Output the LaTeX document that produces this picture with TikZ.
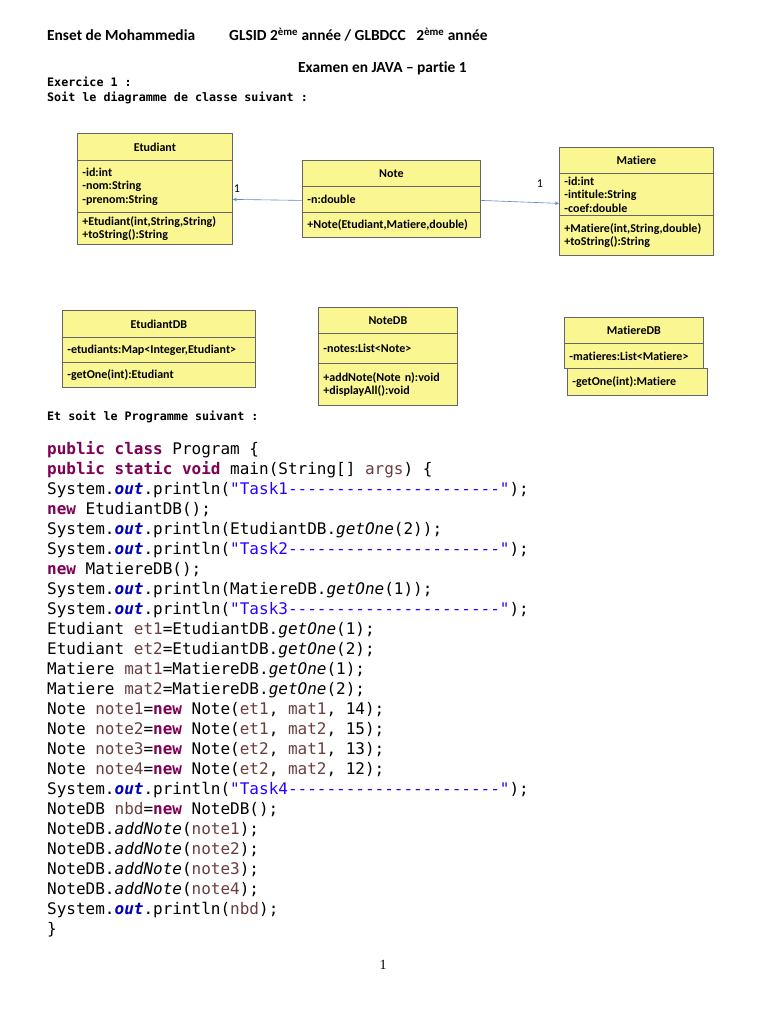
\documentclass[tikz,border=0pt]{standalone}
\usepackage{fontspec}
\setmainfont{Carlito}[Ligatures={TeX,NoCommon}]
\setmonofont{DejaVu Sans Mono}
\newfontfamily\serifpn{Liberation Serif}
\usetikzlibrary{arrows.meta}
\definecolor{umlyellow}{RGB}{250,246,145}
\definecolor{boxgray}{RGB}{100,100,105}
\definecolor{arrowblue}{RGB}{90,135,205}
\definecolor{kwcol}{RGB}{127,0,85}
\definecolor{strcol}{RGB}{42,0,255}
\definecolor{fldcol}{RGB}{0,0,192}
\definecolor{varcol}{RGB}{106,62,62}
\newcommand\jkw[1]{\textcolor{kwcol}{\bfseries #1}}
\newcommand\jstr[1]{\textcolor{strcol}{#1}}
\newcommand\jfld[1]{\textcolor{fldcol}{\bfseries\itshape #1}}
\newcommand\jvar[1]{\textcolor{varcol}{#1}}
\newcommand\jmt[1]{\textit{#1}}
\newcommand\umlfont{\bfseries\fontsize{12}{13.5}\selectfont}
\newcommand\dashes{----------------------}
\begin{document}
\begin{tikzpicture}[x=1pt,y=-1pt,
  cls/.style={draw=boxgray, fill=umlyellow, line width=0.8pt, inner xsep=5pt, inner ysep=0pt,
              font=\umlfont, anchor=north west},
  txt/.style={inner sep=0pt, anchor=base west},
  hdr/.style={txt, font=\bfseries\fontsize{15.4}{17}\selectfont},
  small/.style={txt, font=\ttfamily\bfseries\fontsize{11.7}{14}\selectfont},
  code/.style={inner sep=0pt, anchor=base west, font=\ttfamily\fontsize{16}{20}\selectfont},
  assoc/.style={draw=arrowblue, line width=0.6pt, -{Stealth[length=4pt,width=3.5pt]}},
  mult/.style={inner sep=0pt, font=\fontsize{12}{12}\selectfont}]
\fill[white] (0,0) rectangle (768,1024);
\useasboundingbox (0,0) rectangle (768,1024);

% header
\node[hdr] (h1) at (47,41) {Enset de Mohammedia};
\node[hdr] (h2) at (229,41) {GLSID 2\textsuperscript{ème} année / GLBDCC\hspace{0.7em}2\textsuperscript{ème} année};
\node[hdr] (h3) at (298,73) {Examen en JAVA – partie 1};
\node[small] (ex1) at (47,87) {Exercice 1 :};
\node[small] (ex2) at (47,102) {Soit le diagramme de classe suivant :};

% Etudiant
\node[cls, minimum width=155pt, minimum height=27pt] (etT) at (77,133) {Etudiant};
\node[cls, text width=145pt, align=left, minimum height=52pt] (etA) at (77,160) {-id:int\\-nom:String\\-prenom:String};
\node[cls, text width=145pt, align=left, minimum height=32pt] (etM) at (77,212) {+Etudiant(int,String,String)\\+toString():String};

% Note
\node[cls, minimum width=178pt, minimum height=26pt] (noT) at (302,160) {Note};
\node[cls, text width=168pt, align=left, minimum height=26pt] (noA) at (302,186) {-n:double};
\node[cls, text width=168pt, align=left, minimum height=25pt] (noM) at (302,212) {+Note(Etudiant,Matiere,double)};

% Matiere
\node[cls, minimum width=154pt, minimum height=26pt] (maT) at (559,147) {Matiere};
\node[cls, text width=144pt, align=left, minimum height=42pt] (maA) at (559,173) {-id:int\\-intitule:String\\-coef:double};
\node[cls, text width=144pt, align=left, minimum height=40pt] (maM) at (559,215) {+Matiere(int,String,double)\\+toString():String};

% associations
\draw[assoc] ([yshift=-1pt]noA.west) -- (etA.east |- noA.west);
\node[mult] (m1) at (237,189) {1};
\draw[assoc] ([yshift=-1pt]noA.east) -- ([yshift=-4pt]maA.west |- noA.east);
\node[mult] (m2) at (540,184) {1};

% EtudiantDB
\node[cls, minimum width=193pt, minimum height=27pt] (edT) at (62,310) {EtudiantDB};
\node[cls, text width=183pt, align=left, minimum height=25pt] (edA) at (62,337) {-etudiants:Map<Integer,Etudiant>};
\node[cls, text width=183pt, align=left, minimum height=25pt] (edM) at (62,362) {-getOne(int):Etudiant};

% NoteDB
\node[cls, minimum width=139pt, minimum height=26pt] (ndT) at (318,307) {NoteDB};
\node[cls, text width=129pt, align=left, minimum height=30pt] (ndA) at (318,333) {-notes:List<Note>};
\node[cls, text width=129pt, align=left, minimum height=42pt] (ndM) at (318,363) {+addNote(Note n):void\\+displayAll():void};

% MatiereDB
\node[cls, minimum width=139pt, minimum height=26pt] (mdT) at (564,317) {MatiereDB};
\node[cls, text width=129pt, align=left, minimum height=25pt] (mdA) at (564,343) {-matieres:List<Matiere>};
\node[cls, text width=130pt, align=left, minimum height=27pt] (mdM) at (567,368) {-getOne(int):Matiere};

\node[small] (et) at (47,420) {Et soit le Programme suivant :};

% code
\newcommand\cl[2]{\node[code] (c#1) at (47,{454+20*#1}) {#2};}
\cl{0}{\jkw{public} \jkw{class} Program \{}
\cl{1}{\jkw{public} \jkw{static} \jkw{void} main(String[] \jvar{args}) \{}
\cl{2}{System.\jfld{out}.println(\jstr{"Task1\dashes"});}
\cl{3}{\jkw{new} EtudiantDB();}
\cl{4}{System.\jfld{out}.println(EtudiantDB.\jmt{getOne}(2));}
\cl{5}{System.\jfld{out}.println(\jstr{"Task2\dashes"});}
\cl{6}{\jkw{new} MatiereDB();}
\cl{7}{System.\jfld{out}.println(MatiereDB.\jmt{getOne}(1));}
\cl{8}{System.\jfld{out}.println(\jstr{"Task3\dashes"});}
\cl{9}{Etudiant \jvar{et1}=EtudiantDB.\jmt{getOne}(1);}
\cl{10}{Etudiant \jvar{et2}=EtudiantDB.\jmt{getOne}(2);}
\cl{11}{Matiere \jvar{mat1}=MatiereDB.\jmt{getOne}(1);}
\cl{12}{Matiere \jvar{mat2}=MatiereDB.\jmt{getOne}(2);}
\cl{13}{Note \jvar{note1}=\jkw{new} Note(\jvar{et1}, \jvar{mat1}, 14);}
\cl{14}{Note \jvar{note2}=\jkw{new} Note(\jvar{et1}, \jvar{mat2}, 15);}
\cl{15}{Note \jvar{note3}=\jkw{new} Note(\jvar{et2}, \jvar{mat1}, 13);}
\cl{16}{Note \jvar{note4}=\jkw{new} Note(\jvar{et2}, \jvar{mat2}, 12);}
\cl{17}{System.\jfld{out}.println(\jstr{"Task4\dashes"});}
\cl{18}{NoteDB \jvar{nbd}=\jkw{new} NoteDB();}
\cl{19}{NoteDB.\jmt{addNote}(\jvar{note1});}
\cl{20}{NoteDB.\jmt{addNote}(\jvar{note2});}
\cl{21}{NoteDB.\jmt{addNote}(\jvar{note3});}
\cl{22}{NoteDB.\jmt{addNote}(\jvar{note4});}
\cl{23}{System.\jfld{out}.println(\jvar{nbd});}
\cl{24}{\}}

\node[inner sep=0pt, font=\serifpn\fontsize{14}{14}\selectfont] (pn) at (383,965) {1};
\end{tikzpicture}
\end{document}
